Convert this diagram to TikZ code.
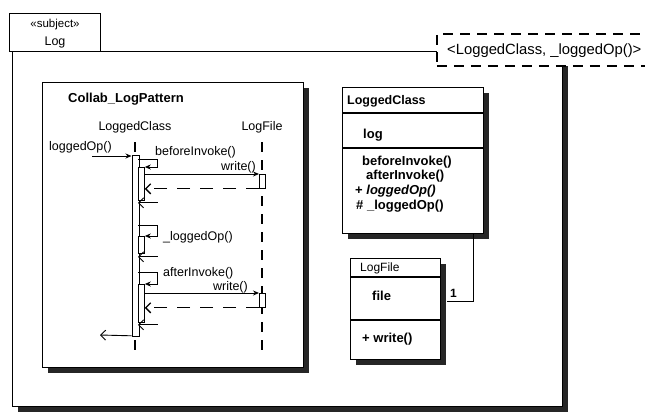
\documentclass[tikz,border=0pt]{standalone}
\usepackage{fontspec}
\setmainfont{Liberation Sans}
\usetikzlibrary{arrows.meta,shadows,calc}
\newcommand\myfs[1]{\fontsize{#1}{#1}\selectfont}
\begin{document}
\begin{tikzpicture}[x=1pt,y=-1pt,
  every node/.style={inner sep=0pt},
  frm/.style={draw, line width=1.3pt, fill=white, anchor=north west},
  shad/.style={drop shadow={shadow xshift=5pt,shadow yshift=-5pt,fill=black!85,opacity=1}},
  cls/.style={draw, line width=1.1pt, fill=white, anchor=north west},
  sepl/.style={line width=1.1pt},
  lbl/.style={font=\myfs{12.5}},
  blbl/.style={font=\bfseries\myfs{12.5}},
  mbl/.style={font=\bfseries\myfs{13}},
  bar/.style={draw, fill=white, line width=0.8pt, anchor=north west},
  msg/.style={line width=0.9pt, -{Stealth[length=6pt,width=5pt]}},
  ret/.style={line width=0.9pt, -{Straight Barb[length=5pt,width=10pt]}},
  retd/.style={ret, line width=1.3pt, dash pattern=on 13pt off 10pt},
  life/.style={line width=1.3pt, dash pattern=on 10pt off 8pt},
  conn/.style={line width=0.9pt}]
\useasboundingbox (0,0) rectangle (645,418);
\clip (0,0) rectangle (645,418);
\fill[white] (0,0) rectangle (645,418);

% outer frame
\node[frm, shad, minimum width=550pt, minimum height=355pt] (frame) at (12,51) {};
\node[frm, line width=1.1pt, minimum width=91pt, minimum height=38pt] (tab) at (9,13) {};
\node[font=\myfs{11.5}] (stereo) at (55,25) {«subject»};
\node[font=\myfs{12.5}] (logname) at (55,42) {Log};
\node[frm, line width=1.5pt, dash pattern=on 10pt off 7pt, minimum width=230pt, minimum height=32pt] (tmpl) at (436,33) {};
\node[lbl, font=\myfs{14.8}, anchor=west] (tmpltxt) at (447,51) {<LoggedClass, \_loggedOp()>};

% collaboration box
\node[frm, shad, minimum width=261pt, minimum height=285pt] (collab) at (42,82) {};
\node[font=\bfseries\myfs{13}, anchor=base west] (ctitle) at (68,102) {Collab\_LogPattern};

% sequence diagram
\node[lbl, anchor=base] (lch) at (135,130) {LoggedClass};
\node[lbl, anchor=base] (lfh) at (262,130) {LogFile};
\draw[life] (lch.south |- 0,142) -- (lch.south |- 0,350);
\draw[life] (lfh.south |- 0,142) -- (lfh.south |- 0,357);

\node[bar, minimum width=7pt, minimum height=181pt] (mb) at (131.5,155) {};
\node[bar, minimum width=6pt, minimum height=33pt] (b1) at (138,167) {};
\node[bar, minimum width=6pt, minimum height=17pt] (b2) at (138,236) {};
\node[bar, minimum width=6pt, minimum height=38pt] (b3) at (138,284) {};
\node[bar, minimum width=6pt, minimum height=14pt] (f1) at (259,174) {};
\node[bar, minimum width=6pt, minimum height=14pt] (f2) at (259,293) {};

\coordinate (src) at (92,156);
\coordinate (snk) at (100,335);

\node[lbl, anchor=base west] (m0) at (49,150) {loggedOp()};
\draw[msg] (src) -- (mb.west |- src);

\node[lbl, anchor=base west] (m1) at (155,155) {beforeInvoke()};
\draw[msg] ([yshift=8pt]b1.north west) -| ([xshift=13pt]b1.north east) -- (b1.north east);
\node[lbl, anchor=base east] (m2) at (256,170) {write()};
\draw[msg] (b1.east |- f1.north) -- (f1.north west);
\draw[retd] (f1.south west) -- (b1.east |- f1.south);
\draw[ret] ([xshift=13pt,yshift=-2pt]b1.south east) -- ([yshift=-2pt]b1.south west);

\node[lbl, anchor=base west] (m3) at (163,240) {\_loggedOp()};
\draw[msg] ([yshift=11pt]b2.north west) -| ([xshift=13pt]b2.north east) -- (b2.north east);
\draw[ret] ([xshift=13pt,yshift=-3pt]b2.south east) -- ([yshift=-3pt]b2.south west);

\node[lbl, anchor=base west] (m4) at (163,276) {afterInvoke()};
\draw[msg] ([yshift=12pt]b3.north west) -| ([xshift=13pt]b3.north east) -- (b3.north east);
\node[lbl, anchor=base east] (m5) at (248,290) {write()};
\draw[msg] (b3.east |- f2.north) -- (f2.north west);
\draw[retd] (f2.south west) -- (b3.east |- f2.south);
\draw[ret] ([xshift=13pt,yshift=-2pt]b3.south east) -- ([yshift=-2pt]b3.south west);

\draw[ret] ([yshift=1pt]mb.south west) -- (snk);

% LoggedClass class box
\node[cls, shad, minimum width=141pt, minimum height=146pt] (lc) at (342,87) {};
\draw[sepl] (lc.west |- 0,113) -- (lc.east |- 0,113);
\draw[sepl] (lc.west |- 0,148) -- (lc.east |- 0,148);
\node[blbl, anchor=base west] (lct) at (347,104) {LoggedClass};
\node[mbl, anchor=base west] (lca) at (363,138) {log};
\node[mbl, anchor=base west] (lm1) at (362,165) {beforeInvoke()};
\node[mbl, anchor=base west] (lm2) at (366,179) {afterInvoke()};
\node[mbl, anchor=base west] (lm3) at (355,194) {+ \textit{loggedOp()}};
\node[mbl, anchor=base west] (lm4) at (356,209) {\# \_loggedOp()};

% LogFile class box
\node[cls, shad, minimum width=90pt, minimum height=101pt] (lf) at (350,258) {};
\draw[sepl] (lf.west |- 0,277) -- (lf.east |- 0,277);
\draw[sepl] (lf.west |- 0,320) -- (lf.east |- 0,320);
\node[lbl, font=\myfs{12}, anchor=base west] (lft) at (360,271) {LogFile};
\node[mbl, anchor=base west] (lfa) at (372,300) {file};
\node[mbl, anchor=base west] (lfm) at (362,342) {+ write()};

% association
\draw[conn] ([xshift=-11pt]lc.south east) |- ($(lf.east |- 0,301)+(6,0)$);
\node[blbl, font=\bfseries\myfs{12}, anchor=base west] (mult) at (450,297) {1};
\end{tikzpicture}
\end{document}
